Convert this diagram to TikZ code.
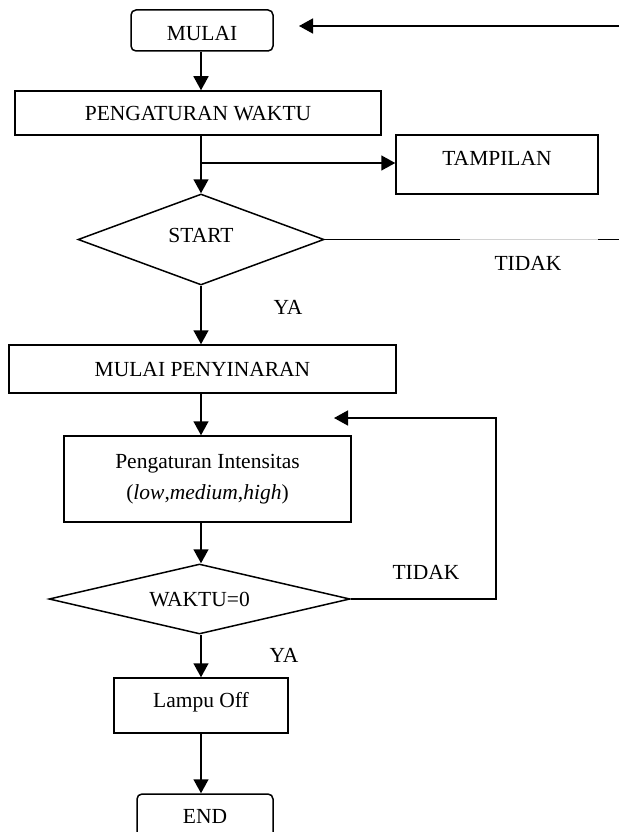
\documentclass[tikz,border=0pt]{standalone}
\usepackage{fontspec}
\setmainfont{Liberation Serif}
\usetikzlibrary{arrows.meta,shapes.geometric,positioning}
\tikzset{
    bentuk/.style={draw, line width=1.5pt, inner sep=0pt, font=\fontsize{21.5}{31}\selectfont},
    kotak/.style={bentuk, rectangle, text height=14.2pt, text depth=0pt},
    terminal/.style={kotak, rounded corners=5pt},
    keputusan/.style={kotak, diamond, aspect=3.5},
    teks/.style={inner sep=0pt, text height=14.2pt, text depth=0pt, font=\fontsize{21.5}{31}\selectfont},
    panah/.style={line width=1.5pt, -{Triangle[length=14pt,width=15pt]}},
    garis/.style={line width=1.5pt}
}

\begin{document}
\begin{tikzpicture}[x=1pt,y=-1pt]
    \useasboundingbox (0,0) rectangle (619,832);

    % the boxes of the chart
    \node[terminal, minimum width=142pt, minimum height=41pt, text height=19.2pt] (mulai) at (202,30.5) {MULAI};
    \node[kotak, minimum width=366pt, minimum height=44pt] (waktu) at (198,113) {PENGATURAN WAKTU};
    \node[kotak, minimum width=202pt, minimum height=59pt, text height=7.6pt, text depth=6.4pt] (tampil) at (497,164.5) {TAMPILAN};
    \node[keputusan, minimum width=246pt, minimum height=91pt, text height=10.6pt, text depth=4.4pt] (start) at (201,239.5) {START};
    \node[kotak, minimum width=387pt, minimum height=48pt] (sinar) at (202.5,369) {MULAI PENYINARAN};
    \node[bentuk, rectangle, minimum width=287pt, minimum height=86pt, align=center] (intens) at (207.5,479)
        {Pengaturan Intensitas\\(\textit{low},\textit{medium},\textit{high})};
    \node[keputusan, minimum width=301pt, minimum height=70pt] (cek) at (199.5,599) {WAKTU=0};
    \node[kotak, minimum width=174pt, minimum height=55pt, text height=8.6pt, text depth=5.4pt] (lampu) at (201,705.5) {Lampu Off};
    \node[terminal, minimum width=136pt, minimum height=44pt] (selesai) at (205,816) {END};

    % points for the free ends of the lines
    \coordinate (poros) at (201,0);
    \coordinate (cabang) at (201,163);
    \coordinate (masuk) at (619,26);
    \coordinate (ujung) at (299,26);
    \coordinate (putus1) at (460,239.5);
    \coordinate (putus2) at (598,239.5);
    \coordinate (keluar) at (619,239.5);
    \coordinate (sudut) at (496,418);
    \coordinate (balik) at (334,418);

    % main flow down the middle
    \draw[panah] (mulai.south -| poros) -- (waktu.north -| poros);
    \draw[panah] (waktu.south -| poros) -- (start.north);
    \draw[panah] (cabang) -- (cabang -| tampil.west);
    \draw[panah] (start.south) -- (sinar.north -| start.south);
    \draw[panah] (sinar.south -| poros) -- (intens.north -| poros);
    \draw[panah] (intens.south -| poros) -- (cek.north -| poros);
    \draw[panah] (cek.south -| poros) -- (lampu.north -| poros);
    \draw[panah] (lampu.south -| poros) -- (selesai.north -| poros);

    % the TIDAK branches
    \draw[garis] (start.east) -- (putus1);
    \draw[line width=0.8pt, gray!35] (putus1) -- (putus2);
    \draw[garis] (putus2) -- (keluar);
    \draw[panah] (masuk) -- (ujung);
    \draw[panah] (cek.east) -| (sudut) -- (balik);

    % label the answers
    \node[teks] (ya1) at (288,307) {YA};
    \node[teks] (tidak1) at (528,263) {TIDAK};
    \node[teks] (tidak2) at (426,572) {TIDAK};
    \node[teks] (ya2) at (284,655) {YA};
\end{tikzpicture}
\end{document}
